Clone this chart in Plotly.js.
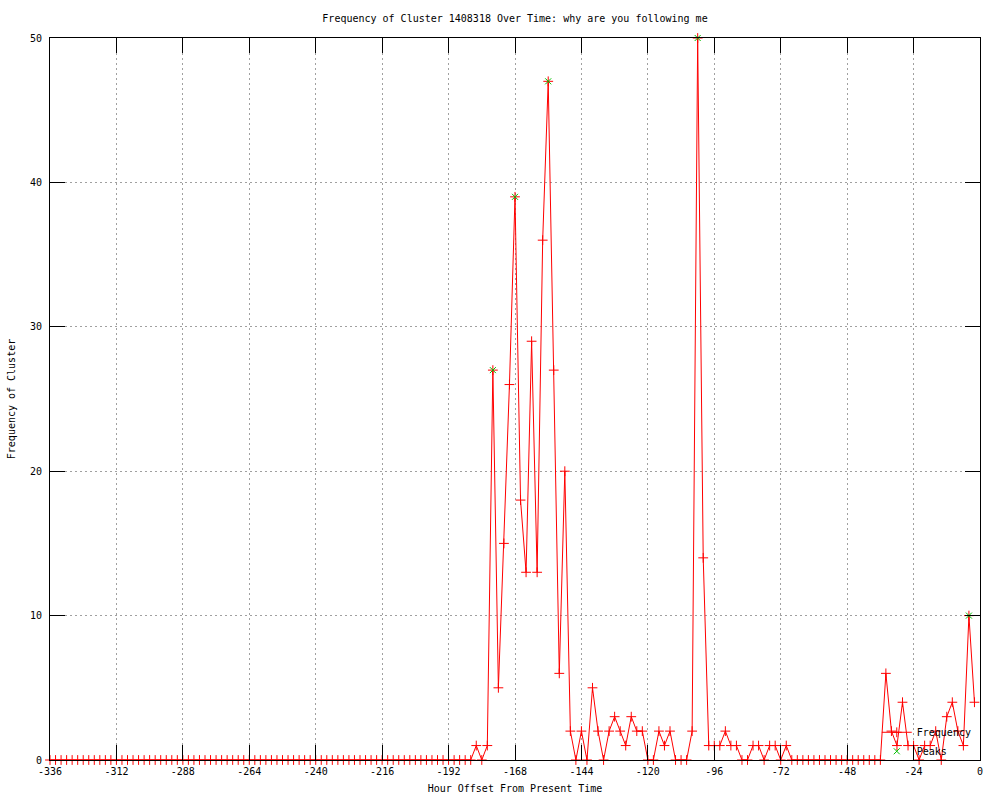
<!DOCTYPE html>
<html>
<head>
<meta charset="utf-8">
<script src="https://cdn.plot.ly/plotly-3.0.1.min.js"></script>
<style>
  html, body { margin: 0; padding: 0; background: #fff; }
  #chart { width: 1000px; height: 800px; }
</style>
</head>
<body>
<div id="chart"></div>
<script>
// Hour offsets (every 2 hours) from -336 to -2
const hours = [
  -336,-334,-332,-330,-328,-326,-324,-322,-320,-318,-316,-314,-312,-310,-308,-306,-304,-302,-300,-298,
  -296,-294,-292,-290,-288,-286,-284,-282,-280,-278,-276,-274,-272,-270,-268,-266,-264,-262,-260,-258,
  -256,-254,-252,-250,-248,-246,-244,-242,-240,-238,-236,-234,-232,-230,-228,-226,-224,-222,-220,-218,
  -216,-214,-212,-210,-208,-206,-204,-202,-200,-198,-196,-194,-192,-190,-188,-186,-184,-182,-180,-178,
  -176,-174,-172,-170,-168,-166,-164,-162,-160,-158,-156,-154,-152,-150,-148,-146,-144,-142,-140,-138,
  -136,-134,-132,-130,-128,-126,-124,-122,-120,-118,-116,-114,-112,-110,-108,-106,-104,-102,-100,-98,
  -96,-94,-92,-90,-88,-86,-84,-82,-80,-78,-76,-74,-72,-70,-68,-66,-64,-62,-60,-58,
  -56,-54,-52,-50,-48,-46,-44,-42,-40,-38,-36,-34,-32,-30,-28,-26,-24,-22,-20,-18,
  -16,-14,-12,-10,-8,-6,-4,-2
];

// Frequency of the cluster at each offset
const frequency = [
  0,0,0,0,0,0,0,0,0,0,0,0,0,0,0,0,0,0,0,0,
  0,0,0,0,0,0,0,0,0,0,0,0,0,0,0,0,0,0,0,0,
  0,0,0,0,0,0,0,0,0,0,0,0,0,0,0,0,0,0,0,0,
  0,0,0,0,0,0,0,0,0,0,0,0,0,0,0,0,0,1,0,1,
  27,5,15,26,39,18,13,29,13,36,47,27,6,20,2,0,2,0,5,2,
  0,2,3,2,1,3,2,2,0,0,2,1,2,0,0,0,2,50,14,1,
  1,1,2,1,1,0,0,1,1,0,1,1,0,1,0,0,0,0,0,0,
  0,0,0,0,0,0,0,0,0,0,0,6,2,1,4,1,1,0,1,1,
  2,0,3,4,2,1,10,4
];

// Detected peaks
const peakHours = [-176, -168, -156, -102, -4];
const peakValues = [27, 39, 47, 50, 10];

// Axis ticks
const xTickVals = [-336,-312,-288,-264,-240,-216,-192,-168,-144,-120,-96,-72,-48,-24,0];
const xTickText = ["-336","-312","-288","-264","-240","-216","-192","-168","-144","-120","-96","-72","-48","-24","0"];
const yTickVals = [0,10,20,30,40,50];
const yTickText = ["0","10","20","30","40","50"];

const FONT = "DejaVu Sans Mono";

const traces = [
  {
    x: hours, y: frequency, name: "Frequency",
    type: "scatter", mode: "lines+markers",
    line: { color: "#ff0000", width: 1 },
    marker: { symbol: "cross-thin", size: 7, color: "#ff0000", line: { color: "#ff0000", width: 1 } },
    cliponaxis: false
  },
  {
    x: peakHours, y: peakValues, name: "Peaks",
    type: "scatter", mode: "markers",
    marker: { symbol: "x-thin", size: 6, color: "#00c000", line: { color: "#00c000", width: 1 } },
    cliponaxis: false
  }
];

const axisCommon = {
  showline: true, linecolor: "#000", linewidth: 1, mirror: "ticks",
  ticks: "inside", ticklen: 15, tickcolor: "#000", tickwidth: 1,
  showgrid: true, gridcolor: "#a0a0a0", gridwidth: 1, griddash: "2px,3px",
  zeroline: false, tickfont: { family: FONT, size: 10, color: "#000" },
  tickmode: "array", fixedrange: true
};

const layout = {
  width: 1000, height: 800,
  paper_bgcolor: "#fff", plot_bgcolor: "#fff",
  margin: { l: 50, r: 20, t: 38, b: 40 },
  font: { family: FONT, size: 10, color: "#000" },
  title: {
    text: "Frequency of Cluster 1408318 Over Time: why are you following me",
    font: { family: FONT, size: 10, color: "#000" },
    x: 0.5, xref: "paper", xanchor: "center",
    y: 1 - 18/800, yref: "container", yanchor: "middle"
  },
  xaxis: Object.assign({}, axisCommon, {
    range: [-336, 0], tickvals: xTickVals, ticktext: xTickText,
    ticklabelstandoff: 2,
    title: { text: "Hour Offset From Present Time", font: { family: FONT, size: 10, color: "#000" }, standoff: 8 }
  }),
  yaxis: Object.assign({}, axisCommon, {
    range: [0, 50], tickvals: yTickVals, ticktext: yTickText,
    ticklabelstandoff: 5,
    title: { text: "Frequency of Cluster", font: { family: FONT, size: 10, color: "#000" }, standoff: 12 }
  }),
  showlegend: true,
  legend: {
    x: 0.889, xanchor: "left", y: -0.008, yanchor: "bottom",
    bgcolor: "rgba(0,0,0,0)", borderwidth: 0,
    font: { family: FONT, size: 10, color: "#000" },
    tracegroupgap: 0, itemwidth: 30
  }
};

Plotly.newPlot("chart", traces, layout, { displayModeBar: false, staticPlot: true });
</script>
</body>
</html>
